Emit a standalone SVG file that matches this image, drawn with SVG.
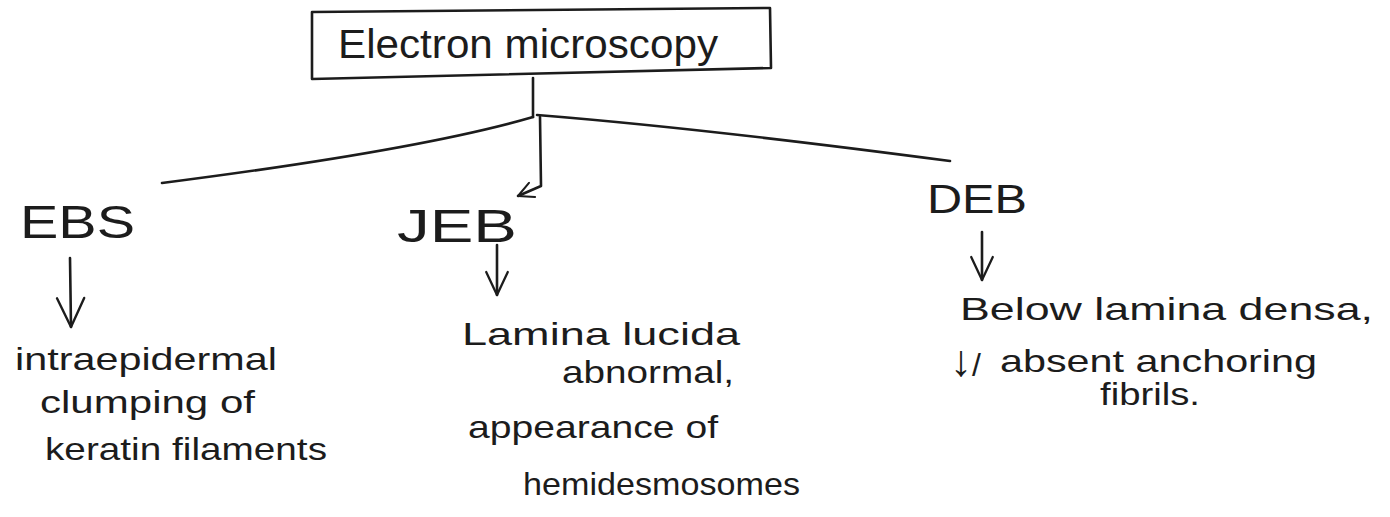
<svg xmlns="http://www.w3.org/2000/svg" width="1390" height="517" viewBox="0 0 1390 517">
  <defs>
    <marker id="small-head" viewBox="0 0 40 40" refX="37" refY="20" markerWidth="18" markerHeight="18" markerUnits="userSpaceOnUse" orient="auto">
      <path d="M3,3 L37,20 L3,37" fill="none" stroke="#1c1c1c" stroke-width="4.5" stroke-linecap="round" stroke-linejoin="round"/>
    </marker>
    <marker id="mid-head" viewBox="0 0 40 40" refX="37" refY="20" markerWidth="27" markerHeight="27" markerUnits="userSpaceOnUse" orient="auto">
      <path d="M3,4 L37,20 L3,36" fill="none" stroke="#1c1c1c" stroke-width="3.4" stroke-linecap="round" stroke-linejoin="round"/>
    </marker>
    <marker id="big-head" viewBox="0 0 40 40" refX="37" refY="20" markerWidth="34" markerHeight="34" markerUnits="userSpaceOnUse" orient="auto">
      <path d="M3,4 L37,20 L3,36" fill="none" stroke="#1c1c1c" stroke-width="2.8" stroke-linecap="round" stroke-linejoin="round"/>
    </marker>
  </defs>
  <style>
    .ink { fill: none; stroke: #1c1c1c; stroke-width: 2.6; stroke-linecap: round; stroke-linejoin: round; }
    .title { font-family: "Liberation Sans", Arial, sans-serif; font-size: 41px; fill: #1c1c1c; }
    .head { font-family: "Liberation Sans", Arial, sans-serif; font-size: 47px; fill: #1c1c1c; }
    .note { font-family: "Liberation Sans", Arial, sans-serif; font-size: 32px; fill: #1c1c1c; }
  </style>
  <rect width="1390" height="517" fill="#ffffff"/>

  <!-- tree connectors -->
  <g id="connectors">
    <path class="ink" d="M533,78 L533,117"/>
    <path class="ink" d="M533,117 Q420,150 162,183"/>
    <path class="ink" d="M537,115 Q700,128 950,161"/>
    <path class="ink" d="M540,117 L541,186 L518,196" marker-end="url(#small-head)"/>
    <path class="ink" d="M70,258 L71,327" marker-end="url(#big-head)"/>
    <path class="ink" d="M497,245 L497,295" marker-end="url(#mid-head)"/>
    <path class="ink" d="M982,232 L982,280" marker-end="url(#mid-head)"/>
  </g>

  <!-- root node -->
  <g id="node-electron-microscopy">
    <path class="ink" d="M312,12 L770,8 L771,68 L312,79 Z"/>
    <text class="title" x="338" y="58" textLength="380" lengthAdjust="spacingAndGlyphs">Electron microscopy</text>
  </g>

  <!-- EBS -->
  <g id="node-ebs">
    <text class="head" x="20" y="238" textLength="115" lengthAdjust="spacingAndGlyphs">EBS</text>
  </g>
  <g id="node-ebs-detail">
    <text class="note" x="15" y="370" textLength="262" lengthAdjust="spacingAndGlyphs">intraepidermal</text>
    <text class="note" x="40" y="413" textLength="215" lengthAdjust="spacingAndGlyphs">clumping of</text>
    <text class="note" x="45" y="460" textLength="282" lengthAdjust="spacingAndGlyphs">keratin filaments</text>
  </g>

  <!-- JEB -->
  <g id="node-jeb">
    <text class="head" x="397" y="242" textLength="120" lengthAdjust="spacingAndGlyphs">JEB</text>
  </g>
  <g id="node-jeb-detail">
    <text class="note" x="462" y="345" textLength="278" lengthAdjust="spacingAndGlyphs">Lamina lucida</text>
    <text class="note" x="562" y="383" textLength="172" lengthAdjust="spacingAndGlyphs">abnormal,</text>
    <text class="note" x="468" y="438" textLength="250" lengthAdjust="spacingAndGlyphs">appearance of</text>
    <text class="note" x="523" y="495" textLength="277" lengthAdjust="spacingAndGlyphs">hemidesmosomes</text>
  </g>

  <!-- DEB -->
  <g id="node-deb">
    <text class="head" x="927" y="213" textLength="100" lengthAdjust="spacingAndGlyphs" style="font-size:40px">DEB</text>
  </g>
  <g id="node-deb-detail">
    <text class="note" x="960" y="320" textLength="413" lengthAdjust="spacingAndGlyphs">Below lamina densa,</text>
    <text class="note" x="950" y="376"><tspan style="font-size:44px">↓</tspan>/</text>
    <text class="note" x="1000" y="372" textLength="317" lengthAdjust="spacingAndGlyphs">absent anchoring</text>
    <text class="note" x="1100" y="405" textLength="100" lengthAdjust="spacingAndGlyphs">fibrils.</text>
  </g>
</svg>
